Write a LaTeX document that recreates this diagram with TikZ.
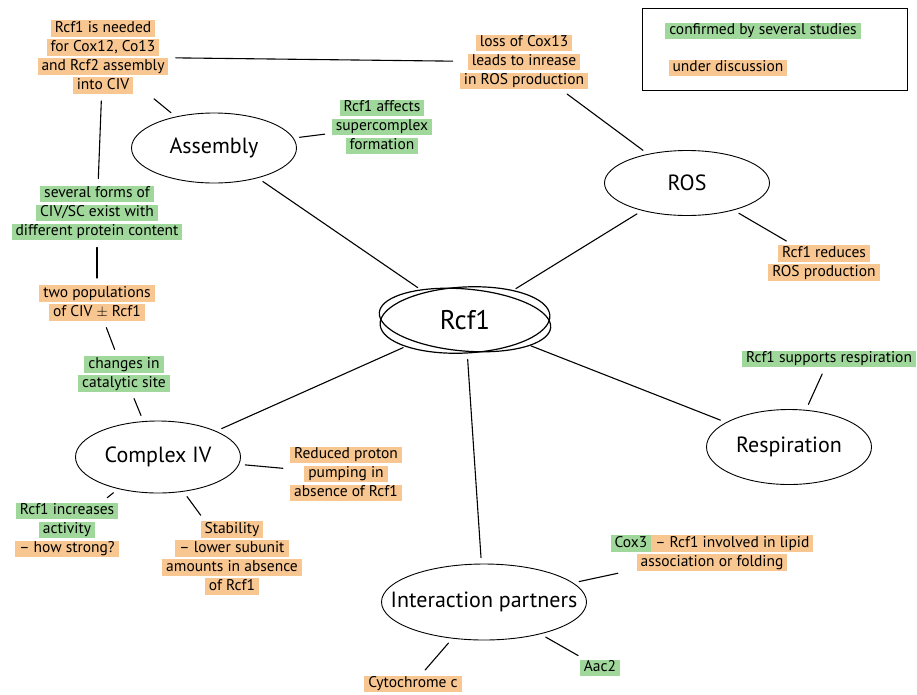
\documentclass[tikz,border=0pt]{standalone}
\usepackage{fontspec}
\setmainfont{PT Sans}
\usepackage{tikz}
\usetikzlibrary{shapes.geometric}
\definecolor{hlorange}{RGB}{248,198,145}
\definecolor{hlgreen}{RGB}{160,215,155}
\setlength{\fboxsep}{1pt}
\newcommand{\hlo}[1]{\colorbox{hlorange}{\rule[-3.5pt]{0pt}{14.5pt}\hspace{3pt}#1\hspace{3pt}}}
\newcommand{\hlg}[1]{\colorbox{hlgreen}{\rule[-3.5pt]{0pt}{14.5pt}\hspace{3pt}#1\hspace{3pt}}}

\begin{document}
\begin{tikzpicture}[x=1pt,y=-1pt,line cap=round]
  \tikzstyle{bubble}=[ellipse,draw,line width=0.9pt,minimum width=165pt,
                      minimum height=70pt,inner sep=0pt,font=\fontsize{22}{26}\selectfont]
  \tikzstyle{note}=[align=center,inner sep=1pt,font=\fontsize{15.5}{19}\selectfont]
  \tikzstyle{link}=[line width=1.1pt,shorten <=6pt,shorten >=6pt]

  \useasboundingbox (0,0) rectangle (917,694);

  % topics
  \node[bubble,draw=none,minimum width=170pt,minimum height=66pt,
        font=\fontsize{27}{30}\selectfont] (rcf) at (465,320) {Rcf1};
  \draw[line width=1.2pt,rotate around={-5:(rcf.center)}] (rcf.center) ellipse (86pt and 31pt);
  \draw[line width=1.2pt,rotate around={3:(rcf.center)}] (rcf.center) ellipse (85pt and 33pt);
  \node[bubble] (asm)   at (214,148) {Assembly};
  \node[bubble,minimum height=65pt] (ros) at (687,183) {ROS};
  \node[bubble,minimum height=75pt] (resp) at (789,447) {Respiration};
  \node[bubble,minimum height=72pt] (cplx) at (158,457) {Complex IV};
  \node[bubble,minimum width=205pt,minimum height=76pt,inner xsep=-28pt] (inter) at (484,602) {Interaction partners};

  % findings
  \node[note] (needed) at (103,57) {\hlo{Rcf1 is needed}\\\hlo{for Cox12, Co13}\\
                                     \hlo{and Rcf2 assembly}\\\hlo{into CIV}};
  \node[note] (loss) at (524,62) {\hlo{loss of Cox13}\\\hlo{leads to inrease}\\\hlo{in ROS production}};
  \node[note] (affects) at (382,127) {\hlg{Rcf1 affects}\\\hlg{supercomplex}\\\hlg{formation}};
  \node[note] (forms) at (97,213) {\hlg{several forms of}\\\hlg{CIV/SC exist with}\\
                                    \hlg{different protein content}};
  \node[note] (pops) at (97,303) {\hlo{two populations}\\\hlo{of CIV $\pm$ Rcf1}};
  \node[note] (changes) at (124,374) {\hlg{changes in}\\\hlg{catalytic site}};
  \node[note] (reduces) at (824,263) {\hlo{Rcf1 reduces}\\\hlo{ROS production}};
  \node[note] (supports) at (829,359) {\hlg{Rcf1 supports respiration}};
  \node[note] (proton) at (346,474) {\hlo{Reduced proton}\\\hlo{pumping in}\\\hlo{absence of Rcf1}};
  \node[note] (increases) at (67,530) {\hlg{Rcf1 increases}\\\hlg{activity}\\\hlo{– how strong?}};
  \node[note] (stab) at (232,558) {\hlo{Stability}\\\hlo{– lower subunit}\\
                                    \hlo{amounts in absence}\\\hlo{of Rcf1}};
  \node[note] (cox3) at (712,553) {\hlg{Cox3}\hlo{– Rcf1 involved in lipid}\\\hlo{association or folding}};
  \node[note] (aac) at (600,668) {\hlg{Aac2}};
  \node[note] (cytc) at (413,684) {\hlo{Cytochrome c}};

  % legend
  \node[draw,line width=1pt,minimum width=265pt,minimum height=82pt] (legend) at (775,49) {};
  \node[note] (conf) at (763,31) {\hlg{confirmed by several studies}};
  \node[note] (disc) at (728,68) {\hlo{under discussion}};

  \draw[link]
        (rcf) edge (asm)
        (rcf) edge (ros)
        (rcf) edge (resp)
        (rcf) edge (cplx)
        (rcf) edge (inter)
        (needed) edge (loss)
        (needed) edge (asm)
        (needed) edge (forms)
        (asm) edge (affects)
        (loss) edge (ros)
        (ros) edge (reduces)
        (resp) edge (supports)
        (forms) edge (pops)
        (pops) edge (changes)
        (changes) edge (cplx)
        (cplx) edge (increases)
        (cplx) edge (stab)
        (cplx) edge (proton)
        (inter) edge (cox3)
        (inter) edge (aac)
        (inter) edge (cytc);
\end{tikzpicture}
\end{document}
